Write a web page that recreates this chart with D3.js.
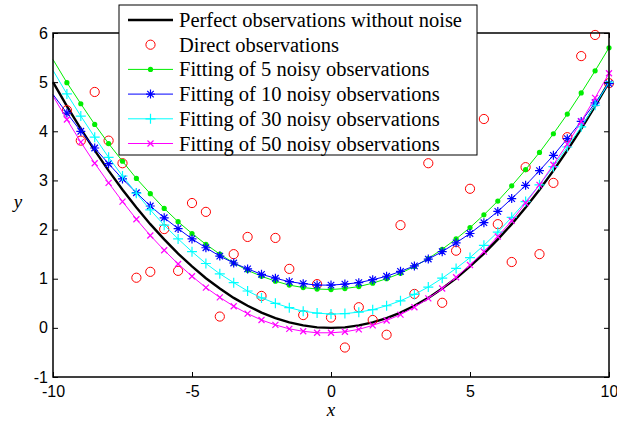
<!DOCTYPE html>
<html>
<head>
<meta charset="utf-8">
<script src="https://cdn.jsdelivr.net/npm/d3@7"></script>
<style>
  body { margin: 0; background: #fff; }
  text { fill: #000; }
</style>
</head>
<body>
<svg width="617" height="423"></svg>
<script>
// sample positions (x) shared by all curves
var xGrid = [-10, -9.5, -9, -8.5, -8, -7.5, -7, -6.5, -6, -5.5, -5, -4.5, -4, -3.5, -3, -2.5, -2, -1.5, -1, -0.5,
  0, 0.5, 1, 1.5, 2, 2.5, 3, 3.5, 4, 4.5, 5, 5.5, 6, 6.5, 7, 7.5, 8, 8.5, 9, 9.5, 10]

var perfect = [5, 4.51, 4.05, 3.61, 3.2, 2.81, 2.45, 2.11, 1.8, 1.51, 1.25, 1.01, 0.8, 0.61, 0.45, 0.31, 0.2, 0.11, 0.05, 0.01,
  0, 0.01, 0.05, 0.11, 0.2, 0.31, 0.45, 0.61, 0.8, 1.01, 1.25, 1.51, 1.8, 2.11, 2.45, 2.81, 3.2, 3.61, 4.05, 4.51, 5]

// noisy observations at x = -9.5 ... 10
var direct = [4.43, 3.81, 4.80, 3.81, 3.35, 1.02, 1.14, 2.01, 1.16, 2.54, 2.36, 0.23, 1.50, 1.85, 0.65, 1.83, 1.20, 0.26, 0.89,
  0.21, -0.40, 0.42, 0.16, -0.14, 2.09, 0.69, 3.35, 0.51, 1.57, 2.83, 4.25, 2.11, 1.34, 3.27, 1.50, 2.95, 3.88, 5.53, 5.96, 4.98]

var fit5 = [5.46, 4.99, 4.56, 4.14, 3.75, 3.39, 3.04, 2.73, 2.43, 2.16, 1.92, 1.70, 1.50, 1.32, 1.17, 1.05, 0.95, 0.87, 0.82, 0.79,
  0.78, 0.80, 0.84, 0.91, 1.00, 1.11, 1.25, 1.41, 1.60, 1.81, 2.04, 2.30, 2.58, 2.89, 3.22, 3.57, 3.95, 4.35, 4.78, 5.23, 5.70]

var fit10 = [4.75, 4.37, 4.00, 3.66, 3.34, 3.03, 2.75, 2.48, 2.24, 2.02, 1.81, 1.63, 1.46, 1.32, 1.20, 1.09, 1.01, 0.94, 0.90, 0.87,
  0.87, 0.89, 0.92, 0.98, 1.05, 1.15, 1.26, 1.40, 1.55, 1.73, 1.92, 2.14, 2.37, 2.63, 2.90, 3.20, 3.51, 3.85, 4.20, 4.58, 4.97]

var fit30 = [5.24, 4.76, 4.31, 3.88, 3.47, 3.09, 2.74, 2.40, 2.09, 1.81, 1.55, 1.31, 1.10, 0.92, 0.75, 0.61, 0.50, 0.41, 0.34, 0.30,
  0.28, 0.29, 0.32, 0.37, 0.45, 0.55, 0.68, 0.83, 1.01, 1.21, 1.43, 1.68, 1.95, 2.25, 2.57, 2.91, 3.28, 3.68, 4.09, 4.53, 5.00]

var fit50 = [4.72, 4.24, 3.78, 3.35, 2.95, 2.57, 2.21, 1.88, 1.58, 1.30, 1.05, 0.82, 0.62, 0.44, 0.29, 0.16, 0.06, -0.02, -0.07, -0.10,
  -0.10, -0.08, -0.03, 0.05, 0.15, 0.27, 0.42, 0.60, 0.80, 1.03, 1.28, 1.55, 1.86, 2.18, 2.54, 2.91, 3.32, 3.74, 4.20, 4.68, 5.18]

var xTicks = [-10, -5, 0, 5, 10]
var yTicks = [-1, 0, 1, 2, 3, 4, 5, 6]

var legendLabels = [
  'Perfect observations without noise',
  'Direct observations',
  'Fitting of 5 noisy observations',
  'Fitting of 10 noisy observations',
  'Fitting of 30 noisy observations',
  'Fitting of 50 noisy observations'
]

var svg = d3.select('svg')
var x = d3.scaleLinear().domain([-10, 10]).range([53, 609])
var y = d3.scaleLinear().domain([-1, 6]).range([377, 33])

// marker shapes, MATLAB style
function marker (type, cx, cy) {
  var r
  if (type === 'star') {
    r = 4.5
    var d = r * 0.72
    return 'M' + (cx - r) + ',' + cy + 'h' + 2 * r + 'M' + cx + ',' + (cy - r) + 'v' + 2 * r +
      'M' + (cx - d) + ',' + (cy - d) + 'l' + 2 * d + ',' + 2 * d +
      'M' + (cx - d) + ',' + (cy + d) + 'l' + 2 * d + ',' + (-2 * d)
  }
  if (type === 'plus') {
    r = 5
    return 'M' + (cx - r) + ',' + cy + 'h' + 2 * r + 'M' + cx + ',' + (cy - r) + 'v' + 2 * r
  }
  if (type === 'cross') {
    r = 3
    return 'M' + (cx - r) + ',' + (cy - r) + 'l' + 2 * r + ',' + 2 * r +
      'M' + (cx - r) + ',' + (cy + r) + 'l' + 2 * r + ',' + (-2 * r)
  }
  return ''
}

var line = d3.line()
  .x((d) => x(d[0]))
  .y((d) => y(d[1]))

function pairs (vals) { return vals.map((v, i) => [xGrid[i], v]) }

var plot = svg.append('g')

// perfect curve
plot.append('path')
  .datum(pairs(perfect))
  .attr('d', line)
  .attr('fill', 'none')
  .attr('stroke', '#000')
  .attr('stroke-width', 2.4)

// direct observations
plot.selectAll('circle.obs')
  .data(direct)
  .enter()
  .append('circle')
    .attr('class', 'obs')
    .attr('cx', (d, i) => x(xGrid[i + 1]))
    .attr('cy', (d) => y(d))
    .attr('r', 4.6)
    .attr('fill', 'none')
    .attr('stroke', '#ff0000')
    .attr('stroke-width', 1)

var fits = [
  { vals: fit5, color: '#00ee00', type: 'dot' },
  { vals: fit10, color: '#0000ff', type: 'star' },
  { vals: fit30, color: '#00ffff', type: 'plus' },
  { vals: fit50, color: '#ff00ff', type: 'cross' }
]

fits.forEach((f) => {
  var pts = pairs(f.vals)
  plot.append('path')
    .datum(pts)
    .attr('d', line)
    .attr('fill', 'none')
    .attr('stroke', f.color)
    .attr('stroke-width', 1)
  var m = pts.slice(1)
  if (f.type === 'dot') {
    plot.selectAll(null)
      .data(m)
      .enter()
      .append('circle')
        .attr('cx', (d) => x(d[0]))
        .attr('cy', (d) => y(d[1]))
        .attr('r', 2.6)
        .attr('fill', f.color)
  } else {
    plot.selectAll(null)
      .data(m)
      .enter()
      .append('path')
        .attr('d', (d) => marker(f.type, x(d[0]), y(d[1])))
        .attr('stroke', f.color)
        .attr('stroke-width', 1.2)
        .attr('fill', 'none')
  }
})

// axes box + inward ticks
var tickFont = '"Liberation Sans", Arial, sans-serif'

svg.append('g').attr('transform', 'translate(0,377)')
  .call(d3.axisBottom(x).tickValues(xTicks).tickSize(-5).tickPadding(9).tickFormat(d3.format('d')))
svg.append('g').attr('transform', 'translate(53,0)')
  .call(d3.axisLeft(y).tickValues(yTicks).tickSize(-5).tickPadding(5).tickFormat(d3.format('d')))
svg.append('g').attr('transform', 'translate(0,33)')
  .call(d3.axisTop(x).tickValues(xTicks).tickSize(-5).tickFormat(''))
svg.append('g').attr('transform', 'translate(609,0)')
  .call(d3.axisRight(y).tickValues(yTicks).tickSize(-5).tickFormat(''))

svg.selectAll('.domain').remove()
svg.selectAll('.tick line').attr('stroke', '#000').attr('stroke-width', 1)
svg.selectAll('.tick text')
  .style('font-family', tickFont)
  .style('font-size', '16px')
  .text(function () { return d3.select(this).text().replace('−', '-') })

svg.append('rect')
  .attr('x', 53).attr('y', 33)
  .attr('width', 556).attr('height', 344)
  .attr('fill', 'none')
  .attr('stroke', '#000')
  .attr('stroke-width', 1.5)

// axis labels
svg.append('text')
  .attr('x', 331).attr('y', 416)
  .attr('text-anchor', 'middle')
  .style('font-family', '"Liberation Serif", "Times New Roman", serif')
  .style('font-style', 'italic')
  .style('font-size', '19px')
  .text('x')

svg.append('text')
  .attr('x', 18).attr('y', 208)
  .attr('text-anchor', 'middle')
  .style('font-family', '"Liberation Serif", "Times New Roman", serif')
  .style('font-style', 'italic')
  .style('font-size', '19px')
  .text('y')

// legend
var lg = svg.append('g')
lg.append('rect')
  .attr('x', 119).attr('y', 5)
  .attr('width', 358).attr('height', 150)
  .attr('fill', '#fff')
  .attr('stroke', '#000')
  .attr('stroke-width', 1)

var legendStyles = [
  { color: '#000', type: 'line', w: 2.4 },
  { color: '#ff0000', type: 'circle' },
  { color: '#00ee00', type: 'dot', w: 1 },
  { color: '#0000ff', type: 'star', w: 1 },
  { color: '#00ffff', type: 'plus', w: 1 },
  { color: '#ff00ff', type: 'cross', w: 1 }
]

legendLabels.forEach((label, i) => {
  var cy = 20 + i * 24.7
  var s = legendStyles[i]
  if (s.type !== 'circle') {
    lg.append('line')
      .attr('x1', 128).attr('x2', 173)
      .attr('y1', cy).attr('y2', cy)
      .attr('stroke', s.color)
      .attr('stroke-width', s.w)
  }
  if (s.type === 'circle') {
    lg.append('circle').attr('cx', 150.5).attr('cy', cy).attr('r', 4.6)
      .attr('fill', 'none').attr('stroke', s.color)
  } else if (s.type === 'dot') {
    lg.append('circle').attr('cx', 150.5).attr('cy', cy).attr('r', 2.6).attr('fill', s.color)
  } else if (s.type !== 'line') {
    lg.append('path').attr('d', marker(s.type, 150.5, cy))
      .attr('stroke', s.color).attr('stroke-width', 1.2).attr('fill', 'none')
  }
  lg.append('text')
    .attr('x', 179).attr('y', cy + 7)
    .style('font-family', '"Liberation Serif", "Times New Roman", serif')
    .style('font-size', '20.5px')
    .text(label)
})
</script>
</body>
</html>
